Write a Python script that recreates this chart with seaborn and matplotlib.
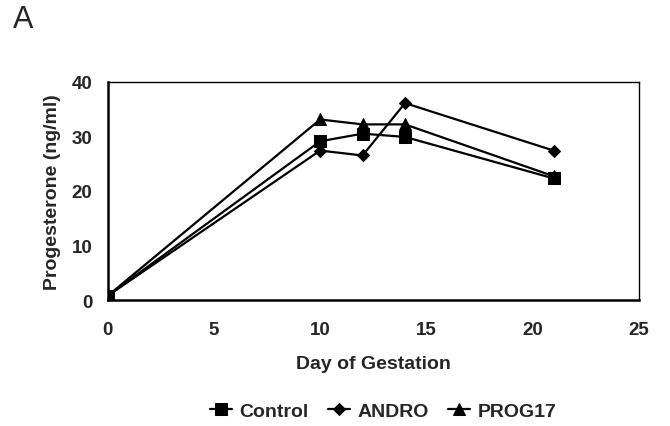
import matplotlib
matplotlib.use("Agg")
import matplotlib.pyplot as plt
import seaborn as sns
import pandas as pd

days = [0, 10, 12, 14, 21]
control = [0.8, 29.1, 30.5, 29.9, 22.3]
andro = [0.8, 27.4, 26.5, 36.1, 27.4]
prog17 = [0.8, 33.1, 32.2, 32.2, 22.7]
groups = ["Control", "ANDRO", "PROG17"]
xticks = [0, 5, 10, 15, 20, 25]
yticks = [0, 10, 20, 30, 40]

rows = []
for g, vals in zip(groups, [control, andro, prog17]):
    for d, v in zip(days, vals):
        rows.append({"Day": d, "Value": v, "Group": g})
df = pd.DataFrame(rows)

sns.set_style("white")
plt.rcParams["font.family"] = ["Liberation Sans", "DejaVu Sans"]

fig = plt.figure(figsize=(6.7, 4.27), dpi=100)
ax = fig.add_axes([0.161, 0.295, 0.792, 0.511])

msizes = {"Control": 8.5, "ANDRO": 6.5, "PROG17": 8.5}
sns.lineplot(data=df, x="Day", y="Value", hue="Group", style="Group",
             hue_order=groups, style_order=groups,
             palette={g: "black" for g in groups},
             markers={"Control": "s", "ANDRO": "D", "PROG17": "^"},
             dashes=False, markersize=8, linewidth=1.6,
             markeredgecolor="black", ax=ax, legend=True)
for line, g in zip(ax.get_lines()[:3], groups):
    line.set_markersize(msizes[g])

ax.set_xlim(0, 25)
ax.set_ylim(0, 40)
ax.set_xticks(xticks)
ax.set_yticks(yticks)
ax.tick_params(length=0, labelsize=13.5)
ax.tick_params(axis="x", pad=15)
ax.tick_params(axis="y", pad=11)
for lab in ax.get_xticklabels() + ax.get_yticklabels():
    lab.set_fontweight("bold")
for s in ax.spines.values():
    s.set_color("black")
    s.set_linewidth(1.0)
ax.spines["bottom"].set_linewidth(1.8)
ax.spines["left"].set_linewidth(1.8)

ax.set_xlabel("Day of Gestation", fontsize=14, fontweight="bold", labelpad=12)
ax.set_ylabel("Progesterone (ng/ml)", fontsize=14, fontweight="bold", labelpad=8)

handles, labels = ax.get_legend_handles_labels()
for h, g in zip(handles, labels):
    h.set_markersize(msizes[g])
ax.get_legend().remove()
leg = fig.legend(handles, labels, loc="center", bbox_to_anchor=(0.572, 0.035),
                 ncol=3, frameon=False, fontsize=14, handlelength=1.1,
                 handletextpad=0.4, columnspacing=1.0)
for t in leg.get_texts():
    t.set_fontweight("bold")

fig.text(0.02, 0.952, "A", fontsize=22, ha="left", va="center")

fig.savefig("out.png", dpi=100)
